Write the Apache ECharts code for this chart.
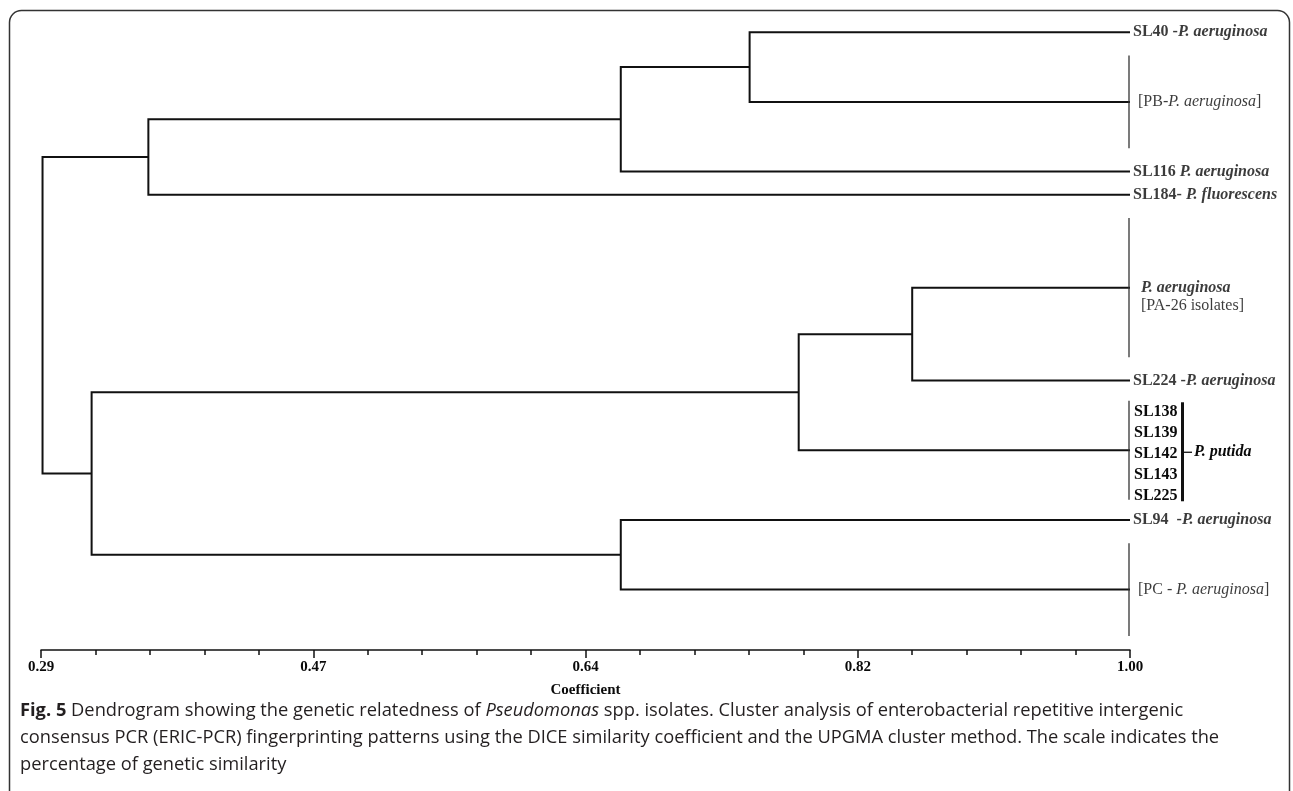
<!DOCTYPE html>
<html><head><meta charset="utf-8">
<script src="https://cdn.jsdelivr.net/npm/echarts@6/dist/echarts.min.js"></script>
<style>html,body{margin:0;padding:0;background:#fff}#c{width:1293px;height:791px}</style>
</head><body><div id="c"></div>
<script>
// ---- data ----
const tickLabels = ['0.29', '0.47', '0.64', '0.82', '1.00'];
const axisMin = 0.29, axisMax = 1.00;
const axisName = 'Coefficient';
// leaves (top to bottom)
const leafLabels = [
  '{b|SL40 -}{bi|P. aeruginosa}',
  '{r|[PB-}{i|P. aeruginosa}{r|]}',
  '{b|SL116 }{bi|P. aeruginosa}',
  '{b|SL184- }{bi|P. fluorescens}',
  '{bi|P. aeruginosa}\n{r|[PA-26 isolates]}',
  '{b|SL224 -}{bi|P. aeruginosa}',
  '',
  '{b|SL94  -}{bi|P. aeruginosa}',
  '{r|[PC - }{i|P. aeruginosa}{r|]}'
];
const leafRows = [0, 3, 6, 7, 11, 15, 18, 21, 24];
// merges: node ids 9..16 (leaves are 0..8)
const mergeLeft  = [0, 9, 10, 4, 12, 7, 13, 11];
const mergeRight = [1, 2, 3, 5, 6, 8, 14, 15];
const mergeSim   = [0.752, 0.668, 0.360, 0.858, 0.784, 0.668, 0.323, 0.291];
// grouped leaves drawn with a bracket line
const bracketLeaves = [1, 4, 6, 8];
const bracketHalf = [2, 3, 2.13, 2];
const putidaIsolates = ['SL138', 'SL139', 'SL142', 'SL143', 'SL225'];
const putidaSpecies = 'P. putida';
const captionLines = [
  '{b|Fig. 5} Dendrogram showing the genetic relatedness of {i|Pseudomonas} spp. isolates. Cluster analysis of enterobacterial repetitive intergenic',
  'consensus PCR (ERIC-PCR) fingerprinting patterns using the DICE similarity coefficient and the UPGMA cluster method. The scale indicates the',
  'percentage of genetic similarity'
];

// ---- build ----
const STEP = (axisMax - axisMin) / 20;
const toU = c => (c - axisMin) / STEP;
const nodeX = [], nodeRow = [];
leafRows.forEach((r, i) => { nodeX[i] = toU(1.0); nodeRow[i] = r; });
mergeSim.forEach((s, k) => {
  const id = leafRows.length + k;
  nodeX[id] = toU(s);
  nodeRow[id] = (nodeRow[mergeLeft[k]] + nodeRow[mergeRight[k]]) / 2;
});
const mergeData = mergeSim.map((s, k) => {
  const a = mergeLeft[k], b = mergeRight[k];
  return [nodeX[a], nodeRow[a], nodeX[b], nodeRow[b], toU(s)];
});
const bracketData = bracketLeaves.map((l, i) => [toU(1.0), leafRows[l] - bracketHalf[i], leafRows[l] + bracketHalf[i]]);

const SERIF = '"Liberation Serif", "Times New Roman", serif';
const SANS = '"Open Sans", sans-serif';
const FS = 16;
const INK = '#0a0a0a';
const rich = {
  b: { fontFamily: SERIF, fontSize: FS, fontWeight: 'bold', color: INK, lineHeight: 18 },
  bi: { fontFamily: SERIF, fontSize: FS, fontWeight: 'bold', fontStyle: 'italic', color: INK, lineHeight: 18 },
  r: { fontFamily: SERIF, fontSize: FS, fontWeight: 'normal', color: INK, lineHeight: 18 },
  i: { fontFamily: SERIF, fontSize: FS, fontWeight: 'normal', fontStyle: 'italic', color: INK, lineHeight: 18 }
};

const chart = echarts.init(document.getElementById('c'), null, { renderer: 'canvas' });
chart.setOption({
  animation: false,
  backgroundColor: '#fff',
  grid: { left: 41, right: 163, top: 9, bottom: 141 },
  xAxis: {
    type: 'value', min: 0, max: 20, interval: 5, position: 'bottom',
    axisLine: { show: true, onZero: false, lineStyle: { color: '#111', width: 1.5 } },
    axisTick: { show: true, length: 8, lineStyle: { color: '#111', width: 1.5 } },
    minorTick: { show: true, splitNumber: 5, length: 5, lineStyle: { color: '#111', width: 1.5 } },
    splitLine: { show: false },
    axisLabel: {
      margin: 10, fontFamily: SERIF, fontWeight: 'bold', fontSize: 15, color: INK,
      formatter: v => tickLabels[Math.round(v / 5)]
    },
    name: axisName, nameLocation: 'middle', nameGap: 33,
    nameTextStyle: { fontFamily: SERIF, fontWeight: 'bold', fontSize: 15, color: INK }
  },
  yAxis: { type: 'value', min: -1, max: 26.6, inverse: true, show: false },
  series: [
    {
      type: 'custom', data: mergeData, silent: true,
      encode: { x: [0, 2, 4], y: [1, 3] },
      renderItem: (params, api) => {
        const n = api.value(4);
        const a = api.coord([api.value(0), api.value(1)]);
        const b = api.coord([api.value(2), api.value(3)]);
        const na = api.coord([n, api.value(1)]);
        const nb = api.coord([n, api.value(3)]);
        return { type: 'polyline', shape: { points: [a, na, nb, b] },
          style: { stroke: '#111', lineWidth: 2, fill: null, lineJoin: 'miter' } };
      }
    },
    {
      type: 'custom', data: bracketData, silent: true,
      encode: { x: 0, y: [1, 2] },
      renderItem: (params, api) => {
        const p1 = api.coord([api.value(0), api.value(1)]);
        const p2 = api.coord([api.value(0), api.value(2)]);
        return { type: 'line', shape: { x1: p1[0] - 1, y1: p1[1], x2: p2[0] - 1, y2: p2[1] },
          style: { stroke: '#333', lineWidth: 1.3 } };
      }
    },
    {
      type: 'custom', data: [[toU(1.0), leafRows[6]]], silent: true,
      renderItem: (params, api) => {
        const p = api.coord([api.value(0), api.value(1)]);
        const children = putidaIsolates.map((t, i) => ({
          type: 'text', x: p[0] + 4, y: p[1] + 4 + (i - 2) * 21,
          style: { text: t, font: 'bold ' + FS + 'px ' + SERIF, fill: INK, verticalAlign: 'middle', align: 'left' }
        }));
        children.push({ type: 'rect', shape: { x: p[0] + 51, y: p[1] - 48, width: 3, height: 99 }, style: { fill: '#111' } });
        children.push({ type: 'line', shape: { x1: p[0] + 54, y1: p[1] + 2, x2: p[0] + 62, y2: p[1] + 2 }, style: { stroke: '#111', lineWidth: 1.3 } });
        children.push({ type: 'text', x: p[0] + 64, y: p[1] + 2,
          style: { text: putidaSpecies, font: 'italic bold ' + FS + 'px ' + SERIF, fill: INK, verticalAlign: 'middle' } });
        return { type: 'group', children };
      }
    },
    {
      type: 'scatter', symbolSize: 0, silent: true,
      data: leafRows.map((r, i) => ({ value: [toU(1.0), r],
        label: i === 4 ? { offset: [8, 9] } : (i === 1 || i === 8 ? { offset: [5, 0] } : {}) })),
      label: {
        show: true, position: 'right', distance: 3,
        formatter: p => leafLabels[p.dataIndex], rich: rich
      }
    }
  ],
  graphic: [
    { type: 'rect', silent: true, shape: { x: 9.5, y: 10.5, width: 1280, height: 820, r: 12 },
      style: { fill: null, stroke: '#333', lineWidth: 1.5 } },
    { type: 'text', left: 20, top: 697, silent: true,
      style: {
        text: captionLines.join('\n'),
        font: '18.3px ' + SANS, fill: '#231f20', lineHeight: 27,
        rich: {
          b: { fontFamily: SANS, fontWeight: 'bold', fontSize: 18.3, fill: '#231f20', lineHeight: 27 },
          i: { fontFamily: SANS, fontStyle: 'italic', fontSize: 18.3, fill: '#231f20', lineHeight: 27 }
        }
      } }
  ]
});
</script>
</body></html>
